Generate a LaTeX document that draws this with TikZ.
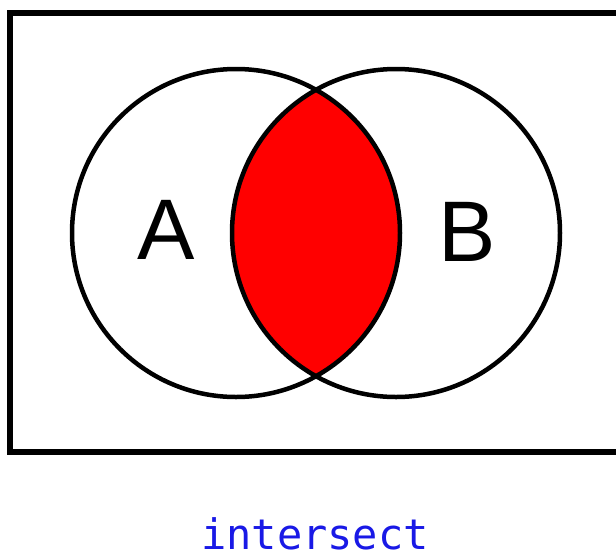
\documentclass[tikz,border=0pt]{standalone}
\usepackage{fontspec}
\setmainfont{Liberation Sans}
\newfontfamily\codefont{DejaVu Sans Mono}
\definecolor{lensred}{RGB}{255,0,0}
\definecolor{codeblue}{RGB}{25,25,230}
\begin{document}
\begin{tikzpicture}[x=1pt,y=-1pt,
  ring/.style={draw=black,line width=4.5pt},
  frame/.style={draw=black,line width=6pt},
  setlabel/.style={font=\fontsize{86}{86}\selectfont,text=black,inner sep=0pt},
  caption/.style={font=\codefont\fontsize{42}{42}\selectfont,text=codeblue,inner sep=0pt,anchor=base}]
\useasboundingbox (0,0) rectangle (616,558);
\fill[white] (0,0) rectangle (616,558);
\draw[frame] (10,13) rectangle (640,452);
\begin{scope}
  \clip (236,233) circle (164);
  \fill[lensred] (396,233) circle (164);
\end{scope}
\draw[ring] (236,233) circle (164);
\draw[ring] (396,233) circle (164);
\node[setlabel] (A) at (166,230) {A};
\node[setlabel] (B) at (467,232) {B};
\node[caption] (cap) at (315,549) {intersect};
\end{tikzpicture}
\end{document}
